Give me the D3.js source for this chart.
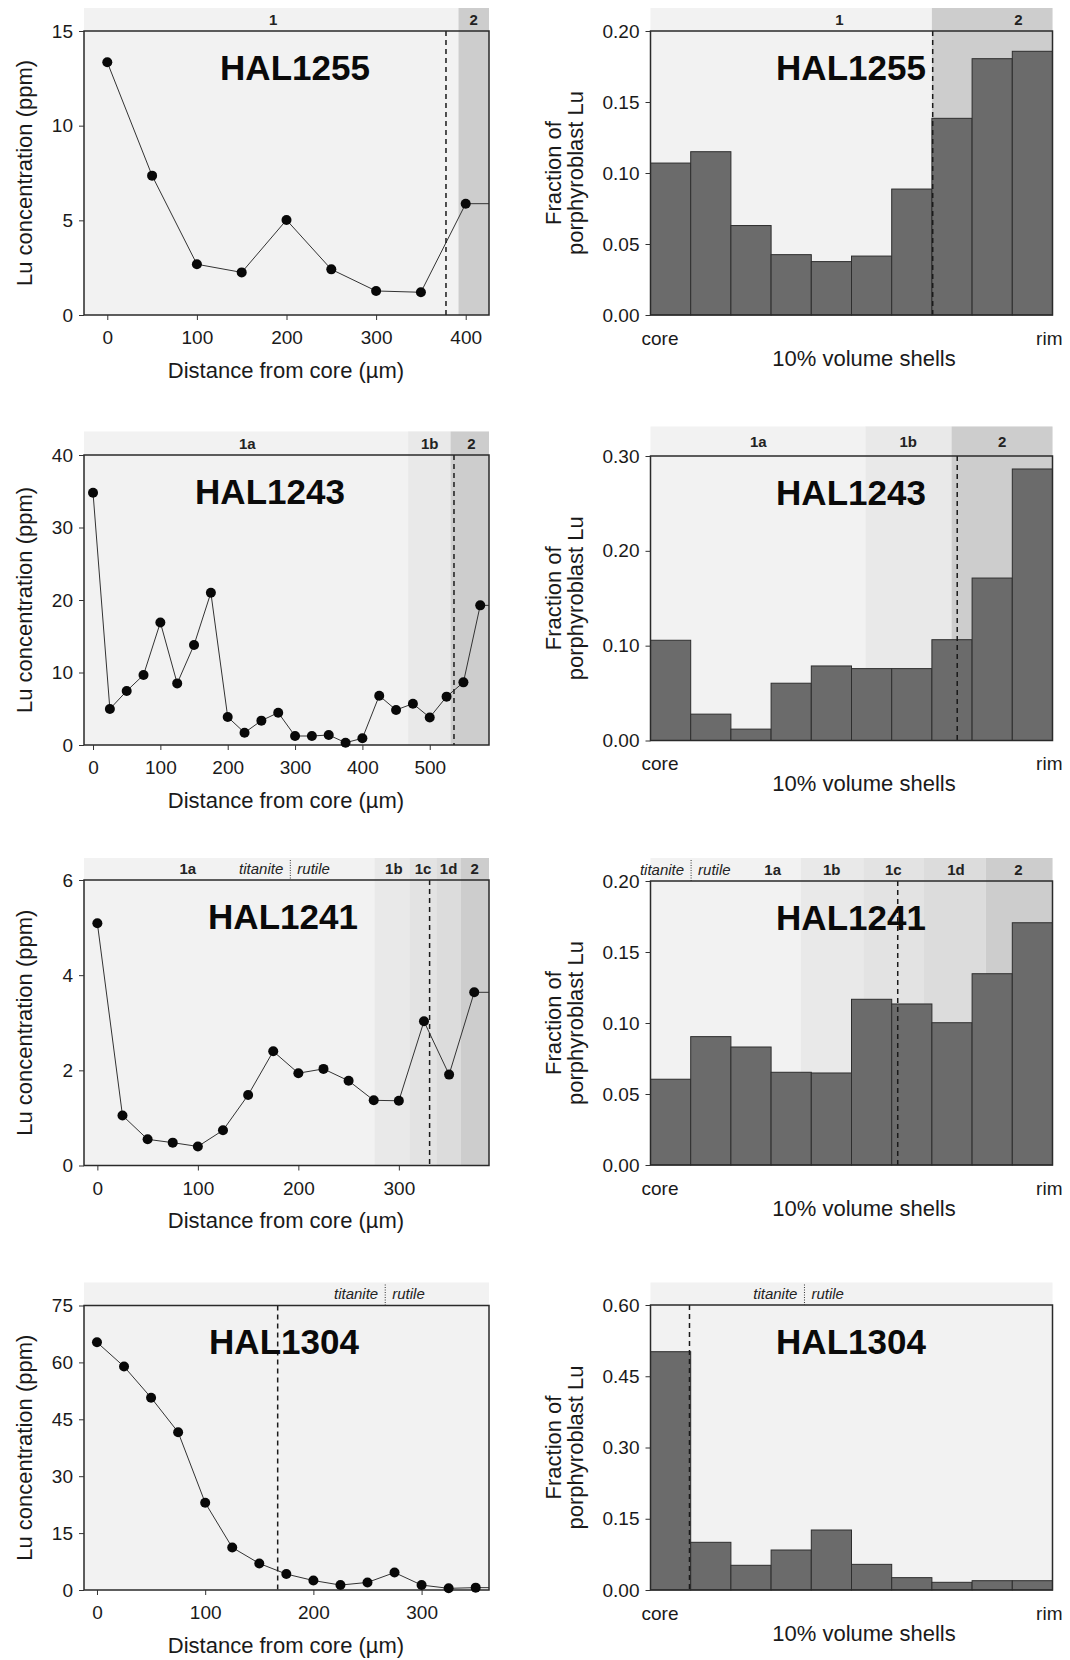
<!DOCTYPE html>
<html>
<head>
<meta charset="utf-8">
<script src="https://cdn.jsdelivr.net/npm/d3@7"></script>
<style>
  body { margin: 0; background: #fff; }
  text { font-family: "Liberation Sans", Arial, Helvetica, sans-serif; }
</style>
</head>
<body>
<div id="grafico"></div>
<script>
// Lu profiles: distance from core (um) and Lu concentration (ppm)
var hal1255Dist = [0, 50, 100, 150, 200, 250, 300, 350, 400];
var hal1255Lu = [13.35, 7.36, 2.68, 2.25, 5.02, 2.41, 1.27, 1.20, 5.88];

var hal1243Dist = [0, 25, 50, 75, 100, 125, 150, 175, 200, 225, 250, 275, 300, 325, 350, 375, 400, 425, 450, 475, 500, 525, 550, 575];
var hal1243Lu = [34.8, 4.97, 7.45, 9.66, 16.9, 8.5, 13.8, 21.0, 3.86, 1.7, 3.36, 4.46, 1.24, 1.24, 1.38, 0.32, 0.92, 6.8, 4.83, 5.7, 3.8, 6.67, 8.64, 19.26];

var hal1241Dist = [0, 25, 50, 75, 100, 125, 150, 175, 200, 225, 250, 275, 300, 325, 350, 375];
var hal1241Lu = [5.09, 1.05, 0.55, 0.48, 0.40, 0.74, 1.48, 2.40, 1.94, 2.03, 1.78, 1.37, 1.36, 3.03, 1.91, 3.64];

var hal1304Dist = [0, 25, 50, 75, 100, 125, 150, 175, 200, 225, 250, 275, 300, 325, 350];
var hal1304Lu = [65.3, 58.9, 50.7, 41.6, 23.0, 11.2, 7.0, 4.2, 2.5, 1.3, 2.0, 4.6, 1.3, 0.44, 0.62];

// Fraction of porphyroblast Lu in 10% volume shells (core -> rim)
var hal1255Shells = [0.107, 0.115, 0.063, 0.0425, 0.0376, 0.0415, 0.0887, 0.1385, 0.1805, 0.1857];
var hal1243Shells = [0.1057, 0.0278, 0.012, 0.0604, 0.0786, 0.0758, 0.0758, 0.1063, 0.1713, 0.2863];
var hal1241Shells = [0.0604, 0.0904, 0.0831, 0.0653, 0.0648, 0.1167, 0.1134, 0.1002, 0.1347, 0.1706];
var hal1304Shells = [0.5017, 0.1004, 0.052, 0.0842, 0.1263, 0.054, 0.026, 0.0162, 0.0196, 0.0196];

// Axis domains and ticks
var hal1255XDomain = [-26, 426];
var hal1243XDomain = [-13.4, 588];
var hal1241XDomain = [-13.3, 389.7];
var hal1304XDomain = [-12, 362.3];
var hal1255XTicks = [0, 100, 200, 300, 400];
var hal1243XTicks = [0, 100, 200, 300, 400, 500];
var hal1241XTicks = [0, 100, 200, 300];
var hal1304XTicks = [0, 100, 200, 300];
var hal1255YTicks = [0, 5, 10, 15];
var hal1243YTicks = [0, 10, 20, 30, 40];
var hal1241YTicks = [0, 2, 4, 6];
var hal1304YTicks = [0, 15, 30, 45, 60, 75];
var hal1255ShellTicks = [0, 0.05, 0.10, 0.15, 0.20];
var hal1243ShellTicks = [0, 0.10, 0.20, 0.30];
var hal1241ShellTicks = [0, 0.05, 0.10, 0.15, 0.20];
var hal1304ShellTicks = [0, 0.15, 0.30, 0.45, 0.60];
var shellLabels = ["core", "rim"];

// Growth zones (distance in um for profiles, shell index for bars)
var hal1255LineZones = [{name: "1", from: -26, to: 392, at: 185}, {name: "2", from: 392, to: 426, at: 409}];
var hal1243LineZones = [{name: "1a", from: -13.4, to: 468, at: 229}, {name: "1b", from: 468, to: 531, at: 500}, {name: "2", from: 531, to: 588, at: 562}];
var hal1241LineZones = [{name: "1a", from: -13.3, to: 276, at: 90}, {name: "1b", from: 276, to: 310.6, at: 295}, {name: "1c", from: 310.6, to: 337.3, at: 324}, {name: "1d", from: 337.3, to: 361.5, at: 349.5}, {name: "2", from: 361.5, to: 389.7, at: 375.5}];
var hal1304LineZones = [];
var hal1255BarZones = [{name: "1", from: 0, to: 7, at: 4.7}, {name: "2", from: 7, to: 10, at: 9.15}];
var hal1243BarZones = [{name: "1a", from: 0, to: 5.35, at: 2.68}, {name: "1b", from: 5.35, to: 7.49, at: 6.41}, {name: "2", from: 7.49, to: 10, at: 8.75}];
var hal1241BarZones = [{name: "1a", from: 2.4, to: 3.74, at: 3.04}, {name: "1b", from: 3.74, to: 5.31, at: 4.51}, {name: "1c", from: 5.31, to: 6.79, at: 6.04}, {name: "1d", from: 6.79, to: 8.34, at: 7.6}, {name: "2", from: 8.34, to: 10, at: 9.15}];
var hal1304BarZones = [];

// Dashed markers and titanite | rutile transition
var hal1255Dash = [378, 7.02];
var hal1243Dash = [536, 7.63];
var hal1241Dash = [330.6, 6.15];
var hal1304Dash = [167, 0.97];
var hal1241Divide = [192, 1.01];
var hal1304Divide = [266.4, 3.83];

var font = '"Liberation Sans", Arial, Helvetica, sans-serif';
var shade = {"1": "#f2f2f2", "1a": "#f2f2f2", "1b": "#e9e9e9", "1c": "#e3e3e3", "1d": "#dcdcdc", "2": "#cdcdcd"};

var svg = d3.select("#grafico")
   .append("svg")
      .attr("width", 1070)
      .attr("height", 1660)
      .style("background", "#fff");

// Strip, plot background, zones, divider
function background(g, x, box, zones, divideAt) {
   g.append("rect")
      .attr("x", box.left).attr("y", box.strip)
      .attr("width", box.right - box.left).attr("height", box.bottom - box.strip)
      .style("fill", shade["1"]);

   g.selectAll(".zone")
      .data(zones.filter(function(z) { return z.name != "1" && z.name != "1a"; }))
      .enter()
      .append("rect")
         .attr("x", function(z) { return x(z.from); })
         .attr("y", box.strip)
         .attr("width", function(z) { return x(z.to) - x(z.from); })
         .attr("height", box.bottom - box.strip)
         .style("fill", function(z) { return shade[z.name]; });

   g.selectAll(".zlab")
      .data(zones)
      .enter()
      .append("text")
         .attr("x", function(z) { return x(z.at); })
         .attr("y", (box.strip + box.top) / 2)
         .attr("dy", "0.36em")
         .attr("text-anchor", "middle")
         .style("font-size", "15px")
         .style("font-weight", "bold")
         .style("fill", "#222")
         .text(function(z) { return z.name; });

   if (divideAt != null) {
      var xd = x(divideAt);
      g.append("line")
         .attr("x1", xd).attr("x2", xd)
         .attr("y1", box.strip + 2).attr("y2", box.top)
         .attr("stroke", "#333")
         .attr("stroke-width", 1)
         .attr("stroke-dasharray", "1,1.5");
      g.append("text")
         .attr("x", xd - 7).attr("y", (box.strip + box.top) / 2).attr("dy", "0.36em")
         .attr("text-anchor", "end")
         .style("font-size", "15px").style("font-style", "italic").style("fill", "#222")
         .text("titanite");
      g.append("text")
         .attr("x", xd + 7).attr("y", (box.strip + box.top) / 2).attr("dy", "0.36em")
         .attr("text-anchor", "start")
         .style("font-size", "15px").style("font-style", "italic").style("fill", "#222")
         .text("rutile");
   }
}

function dashLine(g, x, box, dashAt) {
   g.append("line")
      .attr("x1", x(dashAt)).attr("x2", x(dashAt))
      .attr("y1", box.top).attr("y2", box.bottom)
      .attr("stroke", "#1a1a1a")
      .attr("stroke-width", 1.5)
      .attr("stroke-dasharray", "5,4");
}

function frame(g, box) {
   g.append("rect")
      .attr("x", box.left).attr("y", box.top)
      .attr("width", box.right - box.left).attr("height", box.bottom - box.top)
      .attr("fill", "none")
      .attr("stroke", "#2a2a2a")
      .attr("stroke-width", 1.5);
}

function styleAxis(a) {
   a.select(".domain").remove();
   a.attr("font-family", font).attr("font-size", 19);
   a.selectAll("line").attr("stroke", "#333");
   a.selectAll("text").style("fill", "#1a1a1a");
}

function bigLabel(g, name, cx, cy) {
   g.append("text")
      .attr("x", cx).attr("y", cy).attr("dy", "0.36em")
      .attr("text-anchor", "middle")
      .style("font-size", "35px")
      .style("font-weight", "bold")
      .style("fill", "#0a0a0a")
      .text(name);
}

// Profile panel (left column)
function linePanel(name, dist, lu, xDomain, xTicks, yTicks, zones, dashAt, divideAt, box, labelX) {
   var g = svg.append("g");
   var x = d3.scaleLinear().domain(xDomain).range([box.left, box.right]);
   var y = d3.scaleLinear().domain([0, d3.max(yTicks)]).range([box.bottom, box.top]);

   background(g, x, box, zones, divideAt);

   var pts = d3.zip(dist, lu);
   var linea = d3.line()
      .x(function(d) { return x(d[0]); })
      .y(function(d) { return y(d[1]); });
   // line runs on to the right frame at the last value
   g.append("path")
      .datum(pts.concat([[xDomain[1], lu[lu.length - 1]]]))
      .attr("fill", "none")
      .attr("stroke", "#333")
      .attr("stroke-width", 1)
      .attr("d", linea);

   dashLine(g, x, box, dashAt);
   frame(g, box);

   g.selectAll(".pt")
      .data(pts)
      .enter()
      .append("circle")
         .attr("cx", function(d) { return x(d[0]); })
         .attr("cy", function(d) { return y(d[1]); })
         .attr("r", 5)
         .style("fill", "#080808");

   bigLabel(g, name, labelX, box.top + 36);

   g.append("g")
      .attr("transform", "translate(" + box.left + ",0)")
      .call(d3.axisLeft(y).tickValues(yTicks).tickSize(5).tickPadding(6).tickFormat(d3.format("d")))
      .call(styleAxis);
   g.append("g")
      .attr("transform", "translate(0," + box.bottom + ")")
      .call(d3.axisBottom(x).tickValues(xTicks).tickSize(5).tickPadding(11).tickFormat(d3.format("d")))
      .call(styleAxis);

   g.append("text")
      .attr("x", 286)
      .attr("y", box.bottom + 55).attr("dy", "0.36em")
      .attr("text-anchor", "middle")
      .style("font-size", "22px").style("fill", "#1a1a1a")
      .text("Distance from core (\u00b5m)");
   g.append("text")
      .attr("transform", "translate(24," + (box.top + box.bottom) / 2 + ") rotate(-90)")
      .attr("dy", "0.36em")
      .attr("text-anchor", "middle")
      .style("font-size", "22px").style("fill", "#1a1a1a")
      .text("Lu concentration (ppm)");
}

// Shell histogram panel (right column)
function barPanel(name, shells, yTicks, zones, dashAt, divideAt, box) {
   var g = svg.append("g");
   var x = d3.scaleLinear().domain([0, shells.length]).range([box.left, box.right]);
   var y = d3.scaleLinear().domain([0, d3.max(yTicks)]).range([box.bottom, box.top]);

   background(g, x, box, zones, divideAt);

   g.selectAll(".bar")
      .data(shells)
      .enter()
      .append("rect")
         .attr("x", function(d, i) { return x(i); })
         .attr("y", function(d) { return y(d); })
         .attr("width", x(1) - x(0))
         .attr("height", function(d) { return box.bottom - y(d); })
         .style("fill", "#6b6b6b")
         .style("stroke", "#2e2e2e")
         .style("stroke-width", 1);

   dashLine(g, x, box, dashAt);
   frame(g, box);
   bigLabel(g, name, 851, box.top + 36);

   g.append("g")
      .attr("transform", "translate(" + box.left + ",0)")
      .call(d3.axisLeft(y).tickValues(yTicks).tickSize(5).tickPadding(6).tickFormat(d3.format(".2f")))
      .call(styleAxis);

   g.append("text")
      .attr("x", x(0) - 9).attr("y", box.bottom + 23).attr("dy", "0.36em")
      .attr("text-anchor", "start")
      .style("font-size", "19px").style("fill", "#1a1a1a")
      .text(shellLabels[0]);
   g.append("text")
      .attr("x", x(shells.length) + 10).attr("y", box.bottom + 23).attr("dy", "0.36em")
      .attr("text-anchor", "end")
      .style("font-size", "19px").style("fill", "#1a1a1a")
      .text(shellLabels[1]);
   g.append("text")
      .attr("x", 864).attr("y", box.bottom + 43).attr("dy", "0.36em")
      .attr("text-anchor", "middle")
      .style("font-size", "22px").style("fill", "#1a1a1a")
      .text("10% volume shells");

   var cy = (box.top + box.bottom) / 2;
   g.append("text")
      .attr("transform", "translate(553," + cy + ") rotate(-90)")
      .attr("dy", "0.36em").attr("text-anchor", "middle")
      .style("font-size", "22px").style("fill", "#1a1a1a")
      .text("Fraction of");
   g.append("text")
      .attr("transform", "translate(575," + cy + ") rotate(-90)")
      .attr("dy", "0.36em").attr("text-anchor", "middle")
      .style("font-size", "22px").style("fill", "#1a1a1a")
      .text("porphyroblast Lu");
}

// Row layout
var L = 84, R = 489, BL = 650.5, BR = 1052.5;

linePanel("HAL1255", hal1255Dist, hal1255Lu, hal1255XDomain, hal1255XTicks, hal1255YTicks, hal1255LineZones, hal1255Dash[0], null,
   {left: L, right: R, top: 31, bottom: 315, strip: 8}, 295);
barPanel("HAL1255", hal1255Shells, hal1255ShellTicks, hal1255BarZones, hal1255Dash[1], null,
   {left: BL, right: BR, top: 31, bottom: 315, strip: 8});

linePanel("HAL1243", hal1243Dist, hal1243Lu, hal1243XDomain, hal1243XTicks, hal1243YTicks, hal1243LineZones, hal1243Dash[0], null,
   {left: L, right: R, top: 455, bottom: 745, strip: 431.5}, 270);
barPanel("HAL1243", hal1243Shells, hal1243ShellTicks, hal1243BarZones, hal1243Dash[1], null,
   {left: BL, right: BR, top: 456, bottom: 740.5, strip: 426.5});

linePanel("HAL1241", hal1241Dist, hal1241Lu, hal1241XDomain, hal1241XTicks, hal1241YTicks, hal1241LineZones, hal1241Dash[0], hal1241Divide[0],
   {left: L, right: R, top: 880, bottom: 1165.5, strip: 858}, 283);
barPanel("HAL1241", hal1241Shells, hal1241ShellTicks, hal1241BarZones, hal1241Dash[1], hal1241Divide[1],
   {left: BL, right: BR, top: 881, bottom: 1165, strip: 858});

linePanel("HAL1304", hal1304Dist, hal1304Lu, hal1304XDomain, hal1304XTicks, hal1304YTicks, hal1304LineZones, hal1304Dash[0], hal1304Divide[0],
   {left: L, right: R, top: 1305.5, bottom: 1590, strip: 1282.5}, 284);
barPanel("HAL1304", hal1304Shells, hal1304ShellTicks, hal1304BarZones, hal1304Dash[1], hal1304Divide[1],
   {left: BL, right: BR, top: 1305, bottom: 1590, strip: 1282.5});
</script>
</body>
</html>
